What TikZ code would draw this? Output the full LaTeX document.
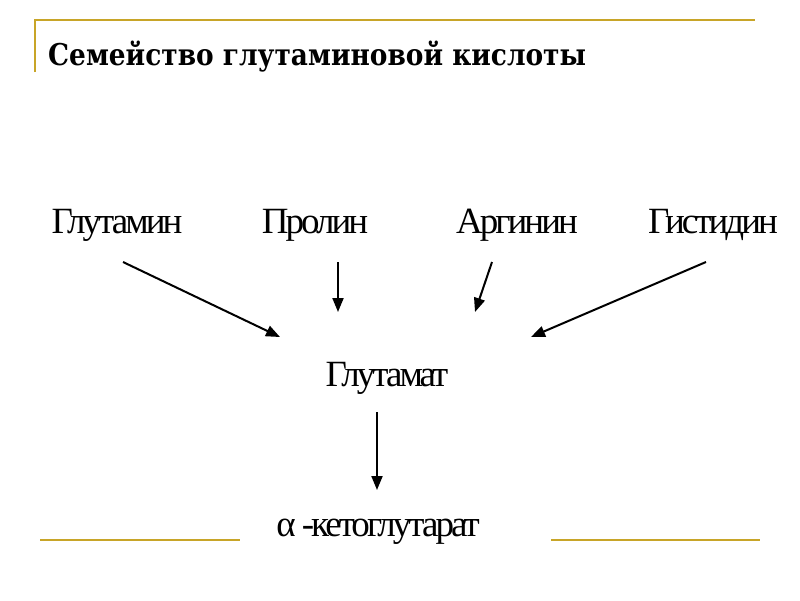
\documentclass[tikz,border=0pt]{standalone}
\usepackage{fontspec}
\setmainfont{Liberation Serif}
\newfontfamily\titlefont{DejaVu Serif}[FakeStretch=0.88]
\newfontfamily\lblfont{Liberation Serif}[LetterSpace=-8]
\usetikzlibrary{arrows.meta}
\definecolor{gold}{RGB}{200,165,40}
\begin{document}
\begin{tikzpicture}[x=1pt,y=-1pt,
  lbl/.style={font=\lblfont\fontsize{37}{40}\selectfont,inner sep=0pt},
  arr/.style={-{Triangle[length=14pt,width=11pt]},line width=2pt},
  deco/.style={gold,line width=1.5pt}]
\useasboundingbox (0,0) rectangle (800,600);
\draw[deco] (35,72) -- (35,20) -- (755,20);
\draw[deco] (40,540) -- (240,540);
\draw[deco] (551,540) -- (760,540);
\node[anchor=west,inner sep=0pt,font=\titlefont\bfseries\fontsize{30}{34}\selectfont] (t) at (48,57) {Семейство глутаминовой кислоты};
\node[lbl] (a) at (117,225) {Глутамин};
\node[lbl] (b) at (315,225) {Пролин};
\node[lbl] (c) at (517,225) {Аргинин};
\node[lbl] (d) at (713,225) {Гистидин};
\node[lbl] (g) at (387,378) {Глутамат};
\node[lbl] (k) at (378,532) {{\fontspec{Liberation Serif}α\,}-кетоглутарат};
\coordinate (a1) at (123,262); \coordinate (a2) at (280,337);
\coordinate (b1) at (338,262); \coordinate (b2) at (338,312);
\coordinate (c1) at (492,262); \coordinate (c2) at (475,312);
\coordinate (d1) at (706,262); \coordinate (d2) at (531,337);
\coordinate (g1) at (377,412); \coordinate (g2) at (377,490);
\draw[arr] (a1) -- (a2);
\draw[arr] (b1) -- (b2);
\draw[arr] (c1) -- (c2);
\draw[arr] (d1) -- (d2);
\draw[arr] (g1) -- (g2);
\end{tikzpicture}
\end{document}
